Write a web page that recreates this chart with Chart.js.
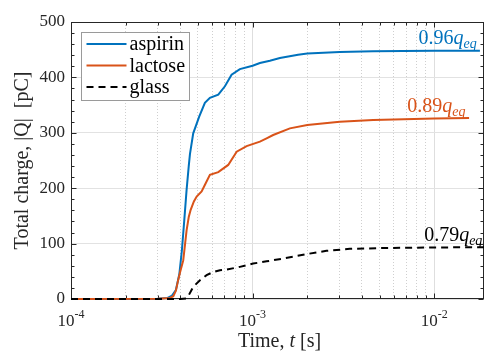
<!DOCTYPE html>
<html><head><meta charset="utf-8">
<script src="https://cdn.jsdelivr.net/npm/chart.js@4.4.0/dist/chart.umd.min.js"></script>
<style>html,body{margin:0;padding:0;background:#fff;}canvas{display:block;}</style>
</head><body>
<canvas id="c" width="485" height="351"></canvas>
<script>
// ---- data ----
const seriesNames = ['aspirin', 'lactose', 'glass'];
const aspirinT = [1e-4, 2e-4, 3e-4, 3.4e-4, 3.6e-4, 3.78e-4, 3.95e-4, 4.08e-4, 4.2e-4, 4.33e-4, 4.45e-4, 4.52e-4, 4.71e-4, 5.08e-4, 5.46e-4, 5.82e-4, 6.47e-4, 7.04e-4, 7.66e-4, 8.51e-4, 1.0e-3, 1.097e-3, 1.245e-3, 1.413e-3, 1.78e-3, 2.0e-3, 3.02e-3, 4.61e-3, 1.0e-2, 1.785e-2];
const aspirinQ = [0, 0, 0.5, 2, 6, 16, 45, 88, 140, 197, 240, 262, 299, 329, 354, 363, 369, 384, 405, 415, 421, 426, 430, 435, 441, 443, 446, 447, 448, 448];
const lactoseT = [1e-4, 3e-4, 3.5e-4, 3.66e-4, 3.78e-4, 3.89e-4, 4.0e-4, 4.15e-4, 4.25e-4, 4.33e-4, 4.45e-4, 4.56e-4, 4.75e-4, 4.92e-4, 5.24e-4, 5.5e-4, 5.82e-4, 6.47e-4, 7.34e-4, 8.17e-4, 9.27e-4, 1.097e-3, 1.194e-3, 1.298e-3, 1.604e-3, 2.0e-3, 3.02e-3, 4.61e-3, 1.0e-2, 1.556e-2];
const lactoseQ = [0, 0.5, 2, 5, 15, 34, 50, 70, 100, 124, 148, 161, 176, 185, 194, 208, 224, 229, 242, 266, 276, 284, 290, 296, 308, 314, 320, 323, 326, 326.5];
const glassT = [1e-4, 4.0e-4, 4.3e-4, 4.42e-4, 4.71e-4, 5.13e-4, 5.58e-4, 6.0e-4, 6.61e-4, 7.19e-4, 8.51e-4, 1.007e-3, 1.194e-3, 1.473e-3, 1.98e-3, 2.55e-3, 3.43e-3, 5.24e-3, 1.0e-2, 1.9e-2];
const glassQ = [0, 0, 1, 5, 22, 34, 43, 48, 52, 53, 58, 64, 68, 73, 81, 87, 90.5, 92, 93, 93.5];
const xRange = [1e-4, 1.88e-2];
const yRange = [0, 500];
const yTickStep = 100;
const ratioLabels = ['0.96', '0.89', '0.79'];
// annotation anchors (data units: time, charge)
const ratioAnchorT = [8.2e-3, 7.1e-3, 8.8e-3];
const ratioAnchorQ = [461, 338, 105];

// ---- styles ----
const colors = ['#0072BD', '#D95319', '#000000'];
const dashes = [[], [], [7, 5]];
const FONT = "'Liberation Serif', 'DejaVu Serif', serif";
const AXC = '#262626';

function isDecade(v) { const l = Math.log10(v); return Math.abs(l - Math.round(l)) < 1e-9; }
function xy(T, Q) { return T.map((t, i) => ({x: t, y: Q[i]})); }

const framePlugin = {
  id: 'frame',
  beforeDatasetsDraw(chart) {
    const ctx = chart.ctx;
    const {left, top, right, bottom} = chart.chartArea;
    const xs = chart.scales.x, ys = chart.scales.y;
    ctx.save();
    ctx.strokeStyle = AXC; ctx.lineWidth = 1; ctx.setLineDash([]);
    const L = Math.round(left) + 0.5, R = Math.round(right) - 0.5, T = Math.round(top) + 0.5, B = Math.round(bottom) - 0.5;
    ctx.strokeRect(L, T, R - L, B - T);
    ctx.beginPath();
    xs.ticks.forEach(tk => {
      const px = Math.round(xs.getPixelForValue(tk.value)) + 0.5;
      const len = isDecade(tk.value) ? 5 : 3;
      ctx.moveTo(px, B); ctx.lineTo(px, B - len);
      ctx.moveTo(px, T); ctx.lineTo(px, T + len);
    });
    for (let v = yRange[0]; v <= yRange[1]; v += yTickStep / 5) {
      const py = Math.round(ys.getPixelForValue(v)) + 0.5;
      const len = (v % yTickStep === 0) ? 5 : 3;
      ctx.moveTo(L, py); ctx.lineTo(L + len, py);
      ctx.moveTo(R, py); ctx.lineTo(R - len, py);
    }
    ctx.stroke();

    // x tick labels: 10 with superscript exponent
    ctx.fillStyle = AXC; ctx.textBaseline = 'alphabetic'; ctx.textAlign = 'left';
    xs.ticks.forEach(tk => {
      if (!isDecade(tk.value)) return;
      const e = String(Math.round(Math.log10(tk.value))).replace('-', '\u2010');
      const px = xs.getPixelForValue(tk.value);
      ctx.font = '17px ' + FONT; const w1 = ctx.measureText('10').width;
      ctx.font = '12px ' + FONT; const w2 = ctx.measureText(e).width;
      const x0 = px - (w1 + w2) / 2;
      ctx.font = '17px ' + FONT; ctx.fillText('10', x0, 326);
      ctx.font = '12px ' + FONT; ctx.fillText(e, x0 + w1, 318);
    });

    // x title with italic t
    const parts = [['Time, ', ''], ['t', 'italic '], [' [s]', '']];
    let w = 0;
    parts.forEach(p => { ctx.font = p[1] + '20px ' + FONT; w += ctx.measureText(p[0]).width; });
    let xx = (left + right) / 2 - w / 2 + 2;
    parts.forEach(p => { ctx.font = p[1] + '20px ' + FONT; ctx.fillText(p[0], xx, 347); xx += ctx.measureText(p[0]).width; });
    ctx.restore();
  },
  afterDraw(chart) {
    const ctx = chart.ctx;
    const {left, top} = chart.chartArea;
    const xs = chart.scales.x, ys = chart.scales.y;
    ctx.save();
    // ratio annotations
    ratioLabels.forEach((txt, i) => {
      let x = xs.getPixelForValue(ratioAnchorT[i]);
      const y = ys.getPixelForValue(ratioAnchorQ[i]);
      ctx.fillStyle = colors[i];
      ctx.textBaseline = 'alphabetic'; ctx.textAlign = 'left';
      ctx.font = '20px ' + FONT;
      ctx.fillText(txt, x, y); x += ctx.measureText(txt).width;
      ctx.font = 'italic 20px ' + FONT;
      ctx.fillText('q', x, y); x += ctx.measureText('q').width;
      ctx.font = 'italic 14px ' + FONT;
      ctx.fillText('eq', x, y + 4);
    });
    // legend
    const bx = Math.round(left) + 10.5, by = Math.round(top) + 10.5, bw = 108, bh = 68;
    ctx.fillStyle = '#ffffff'; ctx.fillRect(bx, by, bw, bh);
    ctx.strokeStyle = '#9a9a9a'; ctx.lineWidth = 1; ctx.setLineDash([]); ctx.strokeRect(bx, by, bw, bh);
    chart.data.datasets.forEach((ds, i) => {
      const ry = by + 11.5 + i * 21.5;
      ctx.strokeStyle = ds.borderColor; ctx.lineWidth = 2; ctx.setLineDash(ds.borderDash || []);
      ctx.beginPath(); ctx.moveTo(bx + 5, ry); ctx.lineTo(bx + 45, ry); ctx.stroke();
      ctx.setLineDash([]);
      ctx.fillStyle = '#000'; ctx.font = '20px ' + FONT; ctx.textBaseline = 'middle'; ctx.textAlign = 'left';
      ctx.fillText(ds.label, bx + 48, ry + 1);
    });
    ctx.restore();
  }
};

const datasets = [
  {label: seriesNames[0], data: xy(aspirinT, aspirinQ), order: 3},
  {label: seriesNames[1], data: xy(lactoseT, lactoseQ), order: 2},
  {label: seriesNames[2], data: xy(glassT, glassQ), order: 1}
].map((d, i) => Object.assign(d, {
  borderColor: colors[i], backgroundColor: colors[i], borderDash: dashes[i],
  borderWidth: 2, pointRadius: 0, tension: 0, fill: false,
  clip: {left: 2, top: 0, right: 0, bottom: 3}
}));

new Chart(document.getElementById('c'), {
  type: 'line',
  data: {datasets},
  options: {
    responsive: false, animation: false,
    layout: {padding: {top: 22, right: 1, left: 0, bottom: 0}},
    plugins: {legend: {display: false}, tooltip: {enabled: false}},
    scales: {
      x: {
        type: 'logarithmic', min: xRange[0], max: xRange[1],
        afterBuildTicks(s) {
          const t = [];
          for (let e = -4; e <= -2; e++) for (let m = 1; m <= 9; m++) {
            const v = m * Math.pow(10, e);
            if (v >= xRange[0] * 0.999 && v <= xRange[1]) t.push({value: v});
          }
          s.ticks = t;
        },
        afterFit(s) { s.height = 52; },
        ticks: {display: false},
        grid: {
          drawTicks: false,
          color: ctx => (ctx.tick && isDecade(ctx.tick.value)) ? '#dedede' : '#cfcfcf',
          lineWidth: 1
        },
        border: {display: false, dash: ctx => (ctx.tick && !isDecade(ctx.tick.value)) ? [1, 2] : []}
      },
      y: {
        min: yRange[0], max: yRange[1],
        afterFit(s) { s.width = 71; },
        ticks: {stepSize: yTickStep, padding: 6, color: AXC, font: {family: FONT, size: 17}},
        grid: {drawTicks: false, color: '#e2e2e2', lineWidth: 1},
        border: {display: false},
        title: {display: true, text: 'Total charge, |Q|  [pC]', color: AXC,
                font: {family: FONT, size: 20}, padding: {top: 11, bottom: 0}}
      }
    }
  },
  plugins: [framePlugin]
});
</script>
</body></html>
